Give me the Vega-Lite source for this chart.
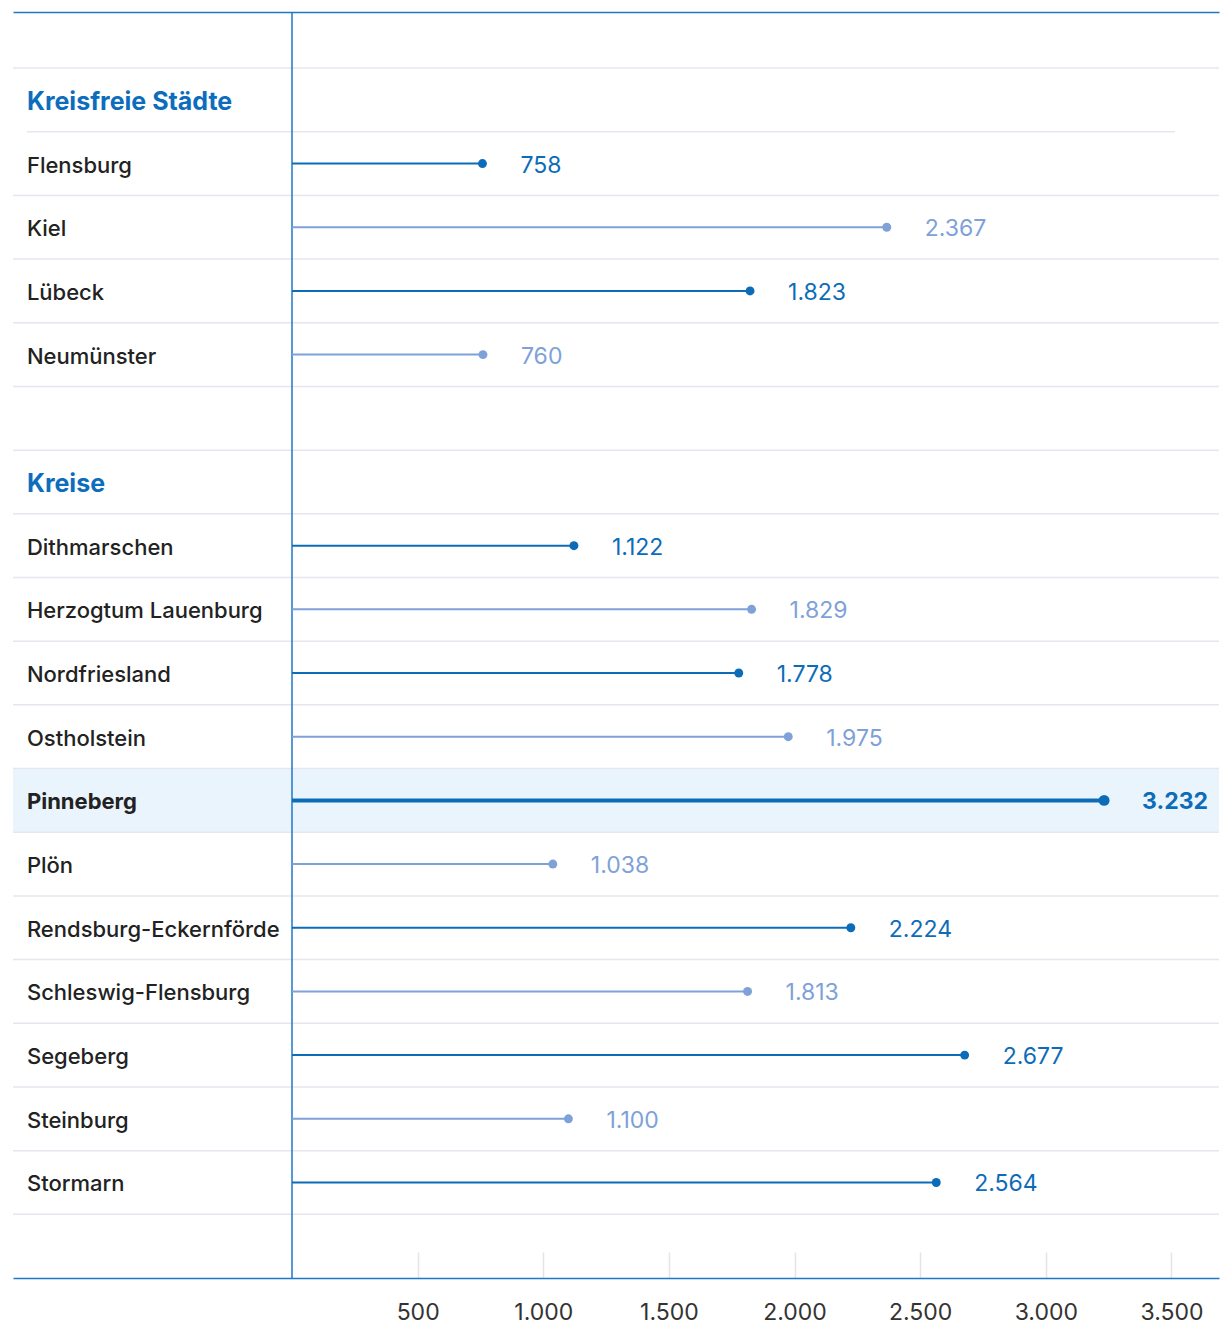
{
  "$schema": "https://vega.github.io/schema/vega-lite/v6.json",
  "width": 1206,
  "height": 1266,
  "autosize": {"type": "none"},
  "padding": {"left": 13, "top": 12, "right": 1, "bottom": 46},
  "config": {"view": {"stroke": null}, "font": "Inter"},
  "data": {
    "values": [
      {"name": "Kreisfreie Städte", "type": "header", "group": "Kreisfreie Städte"},
      {"name": "Flensburg", "type": "item", "group": "Kreisfreie Städte", "value": 758},
      {"name": "Kiel", "type": "item", "group": "Kreisfreie Städte", "value": 2367},
      {"name": "Lübeck", "type": "item", "group": "Kreisfreie Städte", "value": 1823},
      {"name": "Neumünster", "type": "item", "group": "Kreisfreie Städte", "value": 760},
      {"name": "gap1", "type": "blank", "group": "none"},
      {"name": "Kreise", "type": "header", "group": "Kreise"},
      {"name": "Dithmarschen", "type": "item", "group": "Kreise", "value": 1122},
      {"name": "Herzogtum Lauenburg", "type": "item", "group": "Kreise", "value": 1829},
      {"name": "Nordfriesland", "type": "item", "group": "Kreise", "value": 1778},
      {"name": "Ostholstein", "type": "item", "group": "Kreise", "value": 1975},
      {"name": "Pinneberg", "type": "item", "group": "Kreise", "value": 3232},
      {"name": "Plön", "type": "item", "group": "Kreise", "value": 1038},
      {"name": "Rendsburg-Eckernförde", "type": "item", "group": "Kreise", "value": 2224},
      {"name": "Schleswig-Flensburg", "type": "item", "group": "Kreise", "value": 1813},
      {"name": "Segeberg", "type": "item", "group": "Kreise", "value": 2677},
      {"name": "Steinburg", "type": "item", "group": "Kreise", "value": 1100},
      {"name": "Stormarn", "type": "item", "group": "Kreise", "value": 2564},
      {"name": "gap2", "type": "blank", "group": "none"}
    ]
  },
  "layer": [
    {
      "transform": [{"filter": "datum.name === 'Pinneberg'"}],
      "mark": {"type": "rect", "fill": "#eaf4fc"},
      "encoding": {
        "y": {
          "field": "name", "type": "nominal", "axis": null,
          "scale": {
            "domain": ["Kreisfreie Städte", "Flensburg", "Kiel", "Lübeck", "Neumünster", "gap1", "Kreise", "Dithmarschen", "Herzogtum Lauenburg", "Nordfriesland", "Ostholstein", "Pinneberg", "Plön", "Rendsburg-Eckernförde", "Schleswig-Flensburg", "Segeberg", "Steinburg", "Stormarn", "gap2"],
            "paddingInner": 0, "paddingOuter": 0.44, "align": 1
          }
        }
      }
    },
    {
      "transform": [{"filter": "datum.name !== 'Flensburg'"}],
      "mark": {"type": "rule", "color": "#e6e7ee", "strokeWidth": 1.5},
      "encoding": {
        "y": {"field": "name", "type": "nominal", "bandPosition": 0, "axis": null}
      }
    },
    {
      "transform": [{"filter": "datum.name === 'Flensburg'"}],
      "mark": {"type": "rule", "color": "#e6e7ee", "strokeWidth": 1.5},
      "encoding": {
        "y": {"field": "name", "type": "nominal", "bandPosition": 0, "axis": null},
        "x": {"datum": -1055, "type": "quantitative", "axis": null},
        "x2": {"datum": 3514}
      }
    },
    {
      "data": {"values": [{}]},
      "mark": {"type": "rule", "color": "#1f77c8", "strokeWidth": 1.5},
      "encoding": {
        "x": {
          "datum": 0, "type": "quantitative",
          "scale": {"domain": [-1110.4, 3689.3], "nice": false, "zero": false},
          "axis": {"orient": "top", "domain": true, "domainColor": "#1f77c8", "domainWidth": 1.5, "labels": false, "ticks": false, "grid": false, "title": null}
        }
      }
    },
    {
      "transform": [
        {"filter": "datum.type === 'item'"},
        {"window": [{"op": "row_number", "as": "idx"}], "groupby": ["group"]},
        {"calculate": "datum.idx % 2 === 1 ? 'dark' : 'light'", "as": "tone"}
      ],
      "mark": {"type": "rule"},
      "encoding": {
        "y": {"field": "name", "type": "nominal", "axis": null},
        "x": {
          "field": "value", "type": "quantitative",
          "scale": {"domain": [-1110.4, 3689.3], "nice": false, "zero": false},
          "axis": {
            "orient": "bottom", "values": [500, 1000, 1500, 2000, 2500, 3000, 3500],
            "labelExpr": "replace(format(datum.value, ','), ',', '.')",
            "domain": true, "domainColor": "#1f77c8", "domainWidth": 1.5,
            "ticks": true, "tickColor": "#e3e3e8", "tickWidth": 1.5, "tickSize": -26,
            "labelFontSize": 23, "labelColor": "#333333", "labelPadding": 49, "labelFont": "Inter",
            "grid": false, "title": null
          }
        },
        "x2": {"datum": 0},
        "color": {"field": "tone", "type": "nominal", "scale": {"domain": ["dark", "light"], "range": ["#0d6cb8", "#7ea1d8"]}, "legend": null},
        "size": {"condition": {"test": "datum.name === 'Pinneberg'", "value": 4}, "value": 2}
      }
    },
    {
      "transform": [
        {"filter": "datum.type === 'item'"},
        {"window": [{"op": "row_number", "as": "idx"}], "groupby": ["group"]},
        {"calculate": "datum.idx % 2 === 1 ? 'dark' : 'light'", "as": "tone"}
      ],
      "mark": {"type": "circle", "opacity": 1},
      "encoding": {
        "y": {"field": "name", "type": "nominal", "axis": null},
        "x": {"field": "value", "type": "quantitative", "axis": null},
        "color": {"field": "tone", "type": "nominal", "legend": null},
        "size": {"condition": {"test": "datum.name === 'Pinneberg'", "value": 120}, "value": 80}
      }
    },
    {
      "transform": [
        {"filter": "datum.type === 'item'"},
        {"window": [{"op": "row_number", "as": "idx"}], "groupby": ["group"]},
        {"calculate": "datum.idx % 2 === 1 ? 'dark' : 'light'", "as": "tone"},
        {"filter": "datum.name !== 'Pinneberg'"},
        {"calculate": "replace(format(datum.value, ','), ',', '.')", "as": "label"}
      ],
      "mark": {"type": "text", "align": "left", "baseline": "middle", "dx": 38, "dy": 2, "fontSize": 23, "font": "Inter"},
      "encoding": {
        "y": {"field": "name", "type": "nominal", "axis": null},
        "x": {"field": "value", "type": "quantitative", "axis": null},
        "text": {"field": "label"},
        "color": {"field": "tone", "type": "nominal", "legend": null}
      }
    },
    {
      "transform": [
        {"filter": "datum.name === 'Pinneberg'"},
        {"calculate": "replace(format(datum.value, ','), ',', '.')", "as": "label"}
      ],
      "mark": {"type": "text", "align": "left", "baseline": "middle", "dx": 38, "dy": 2, "fontSize": 23, "fontWeight": "bold", "font": "Inter", "color": "#0d6cb8"},
      "encoding": {
        "y": {"field": "name", "type": "nominal", "axis": null},
        "x": {"field": "value", "type": "quantitative", "axis": null},
        "text": {"field": "label"}
      }
    },
    {
      "transform": [{"filter": "datum.type === 'header'"}],
      "mark": {"type": "text", "align": "left", "baseline": "middle", "dy": 2, "fontSize": 25, "fontWeight": "bold", "font": "Inter", "color": "#0d6dbd"},
      "encoding": {
        "y": {"field": "name", "type": "nominal", "axis": null},
        "x": {"datum": -1055, "type": "quantitative", "axis": null},
        "text": {"field": "name"}
      }
    },
    {
      "transform": [{"filter": "datum.type === 'item' && datum.name !== 'Pinneberg'"}],
      "mark": {"type": "text", "align": "left", "baseline": "middle", "dy": 2, "fontSize": 22, "fontWeight": 500, "font": "Inter", "color": "#222222"},
      "encoding": {
        "y": {"field": "name", "type": "nominal", "axis": null},
        "x": {"datum": -1055, "type": "quantitative", "axis": null},
        "text": {"field": "name"}
      }
    },
    {
      "transform": [{"filter": "datum.name === 'Pinneberg'"}],
      "mark": {"type": "text", "align": "left", "baseline": "middle", "dy": 2, "fontSize": 22, "fontWeight": "bold", "font": "Inter", "color": "#222222"},
      "encoding": {
        "y": {"field": "name", "type": "nominal", "axis": null},
        "x": {"datum": -1055, "type": "quantitative", "axis": null},
        "text": {"field": "name"}
      }
    }
  ],
  "resolve": {"axis": {"x": "independent"}}
}
